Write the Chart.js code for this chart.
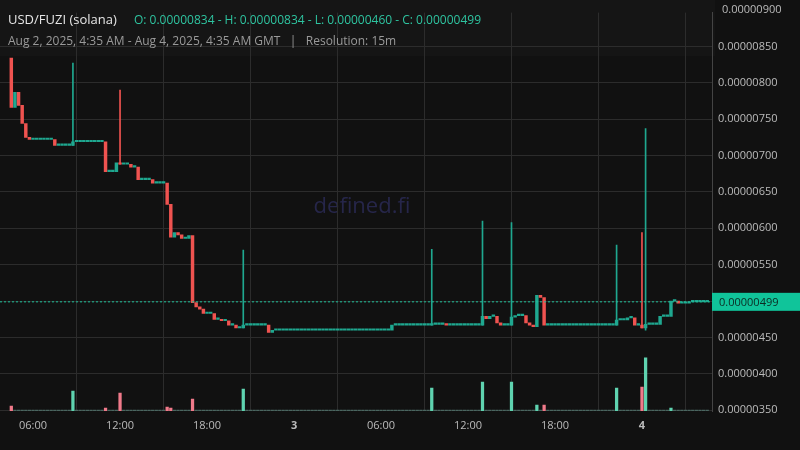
<!DOCTYPE html>
<html><head><meta charset="utf-8">
<script src="https://cdn.jsdelivr.net/npm/chart.js@4/dist/chart.umd.min.js"></script>
<style>html,body{margin:0;background:#111;}canvas{display:block}</style>
</head><body><canvas id="c" width="800" height="450"></canvas>
<script>
// prices in units of 1e-8 USD; index = 15-min slot from Aug 2 04:30
const candleIdx = [0,1,2,3,4,5,12,17,26,29,30,33,35,39,43,44,45,46,47,49,50,51,52,53,56,58,60,62,64,71,72,105,116,120,130,131,132,134,135,138,139,142,143,144,145,146,147,167,170,172,174,175,179,182,184,187];
const opens  = [834,766,787,769,744,725,722,714,719,678,690,688,684,667,662,633,588,594,591,586,590,498,492,489,483,475,473,467,463,467,457,460,467,468,467,479,476,479,470,467,478,480,470,467,465,508,505,467,474,477,467,463,468,479,500,497];
const closes = [766,787,769,744,725,722,714,719,678,690,688,684,667,662,633,588,594,591,586,590,498,492,489,483,475,473,467,463,467,457,460,467,468,467,479,476,479,470,467,478,480,470,467,465,508,505,467,474,477,467,463,468,479,500,497,499];
const highs  = [834,787,787,769,744,725,722,827,719,690,790,688,684,667,662,633,594,594,591,590,590,498,492,489,483,475,473,467,570,467,460,467,571,468,610,479,479,479,470,608,480,480,470,467,508,508,505,577,477,477,594,737,479,500,500,499];
const lows   = [766,766,769,744,725,722,714,714,678,678,688,684,667,662,633,588,588,591,586,586,498,492,489,483,475,473,467,463,463,457,457,460,467,467,467,476,476,470,467,467,478,470,467,465,465,505,467,467,474,467,463,460,468,479,497,497];
const lastIdx = 192;
const volIdx = [0,17,26,30,43,44,50,64,116,130,138,145,147,167,174,175,182];
const volVals = [5,20,3,18,4,3,12,22,23,29,29,6,6,23,24,53,3];
const xTickHours = [6,12,18,24,30,36,42,48];
const xTickLabels = ['06:00','12:00','18:00','3','06:00','12:00','18:00','4'];
const yTicks = [350,400,450,500,550,600,650,700,750,800,850,900];
const lastPrice = 499;

const UP='#1fa890', DN='#ef5350';
const hourOf = i => 4.5 + i*0.25;
const bodies=[], bodyCol=[], wicks=[], wickCol=[], vols=[], volCol=[];
let k=0, prev=opens[0];
for(let i=0;i<=lastIdx;i++){
  let o,c,h,l;
  if(k<candleIdx.length && candleIdx[k]===i){o=opens[k];c=closes[k];h=highs[k];l=lows[k];k++;}
  else {o=c=h=l=prev;}
  prev=c;
  const col = c>=o?UP:DN;
  bodies.push({x:hourOf(i),y:[o,c]}); bodyCol.push(col);
  if(h>Math.max(o,c)||l<Math.min(o,c)){wicks.push({x:hourOf(i),y:[l,h]}); wickCol.push(col);}
  const vi=volIdx.indexOf(i);
  vols.push({x:hourOf(i),y:vi>=0?volVals[vi]:1});
  volCol.push(vi>=0?(c>=o?'#5fd3b0':'#f07a8a'):'#4a6660');
}
const fmt = v => (v*1e-8).toFixed(8);

const bg={id:'bg',beforeDraw(ch){const x=ch.ctx;x.save();x.fillStyle='#111111';x.fillRect(0,0,800,450);
  x.fillStyle='#151515';x.fillRect(0,0,715,56);x.restore();
  x.save();x.font='22px "Open Sans"';x.fillStyle='#26264a';x.textAlign='center';x.textBaseline='middle';x.fillText('defined.fi',362,207);x.restore();},
 afterDraw(ch){const x=ch.ctx,a=ch.chartArea,y=ch.scales.y.getPixelForValue(lastPrice);
  x.save();x.strokeStyle='#1fc29a';x.setLineDash([2,2]);x.lineWidth=1;x.beginPath();x.moveTo(a.left,y);x.lineTo(a.right,y);x.stroke();
  x.setLineDash([]);x.fillStyle='#10c49a';x.fillRect(712,y-9,88,18);
  x.fillStyle='#0c2a22';x.font='11px "Open Sans"';x.textBaseline='middle';x.fillText(fmt(lastPrice),719,y+1);
  x.fillStyle='#bbbbbb';x.fillText(fmt(900),722,ch.scales.y.getPixelForValue(900));
  x.font='13px "Open Sans"';x.textBaseline='alphabetic';x.fillStyle='#e6e6e6';x.fillText('USD/FUZI (solana)',8,24);
  x.fillStyle='#2ec4a0';x.font='12px "Open Sans"';x.fillText('O: '+fmt(opens[0])+' - H: '+fmt(834)+' - L: '+fmt(460)+' - C: '+fmt(lastPrice),134,24);
  x.fillStyle='#9a9a9a';x.fillText('Aug 2, 2025, 4:35 AM - Aug 4, 2025, 4:35 AM GMT   |   Resolution: 15m',8,45);
  x.restore();}};

new Chart(document.getElementById('c'),{
 type:'bar',
 data:{datasets:[
  {data:vols,backgroundColor:volCol,yAxisID:'y2',barThickness:2.6,grouped:false,minBarLength:1,order:3},
  {data:wicks,backgroundColor:wickCol,barThickness:1,grouped:false,order:2},
  {data:bodies,backgroundColor:bodyCol,barThickness:2.8,grouped:false,minBarLength:1.5,order:1}
 ]},
 plugins:[bg],
 options:{responsive:false,animation:false,
  layout:{padding:{top:0}},
  plugins:{legend:{display:false},tooltip:{enabled:false}},
  scales:{
   x:{type:'linear',offset:false,min:3.72,max:52.83,
      afterBuildTicks(s){s.ticks=xTickHours.map(v=>({value:v}));},
      afterFit(s){s.height=39;},
      grid:{color:'#2c2c2c',drawTicks:false},border:{display:false},
      ticks:{color:'#bbbbbb',padding:8,maxRotation:0,autoSkip:false,
        callback:(v)=>xTickLabels[xTickHours.indexOf(v)],
        font:(c)=>{const l=xTickLabels[xTickHours.indexOf(c.tick&&c.tick.value)];return {family:'"Open Sans"',size:11,weight:(l==='3'||l==='4')?'bold':'normal'};}}},
   y:{position:'right',min:349,max:896.4,
      afterBuildTicks(s){s.ticks=yTicks.filter(v=>v<=s.max).map(v=>({value:v}));},
      afterFit(s){s.width=88;},
      grid:{color:'#2c2c2c',drawTicks:false},border:{color:'#444'},
      ticks:{color:'#bbbbbb',padding:6,font:{family:'"Open Sans"',size:11},callback:v=>fmt(v)}},
   y2:{display:false,min:0,max:398}
  }}
});
</script></body></html>
